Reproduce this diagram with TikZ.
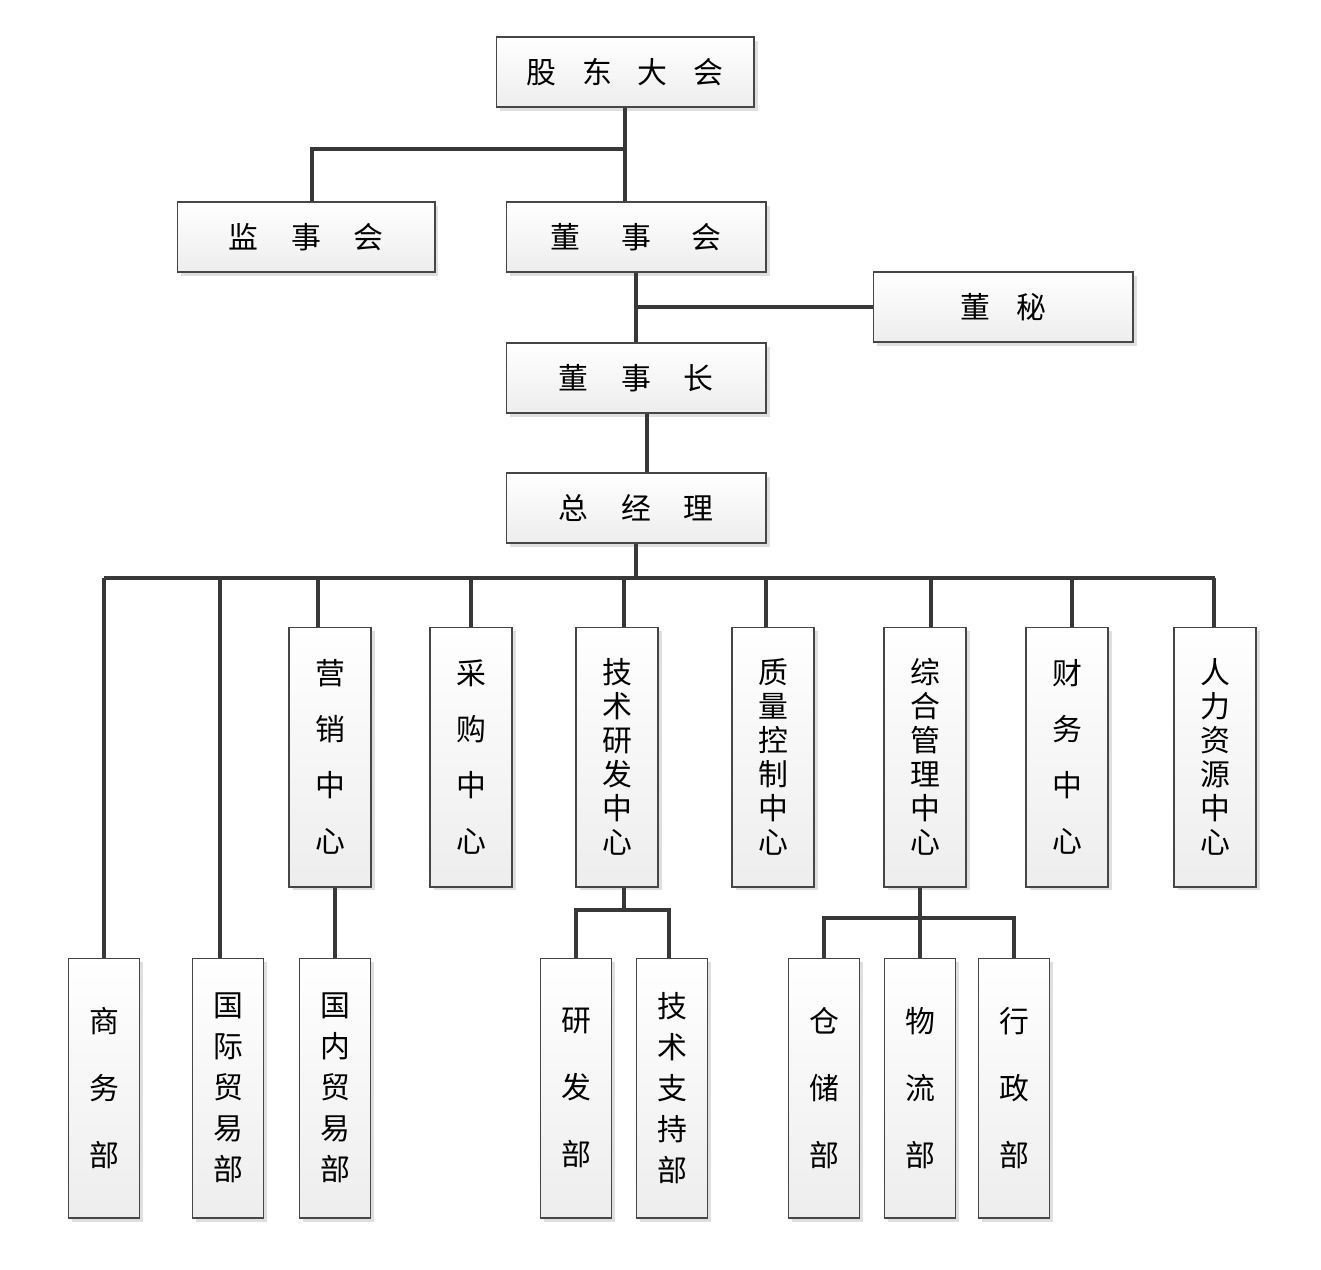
\documentclass[tikz,border=0pt]{standalone}
\usepackage{fontspec}
\usepackage{tikz}
\usetikzlibrary{calc, shadows}
\newfontfamily\cjk{Noto Sans CJK SC}
\newcommand{\gapA}{\hspace{0.52cm}}
\newcommand{\gapB}{\hspace{0.66cm}}
\newcommand{\gapC}{\hspace{0.82cm}}

\tikzset{
	box/.style={draw=gray!55!black, line width=0.6pt, top color=white, bottom color=gray!14,
		drop shadow={shadow xshift=2pt, shadow yshift=-2pt, opacity=0.25, fill=gray}, inner sep=0pt},
	hbox/.style={box, minimum width=5.16cm, minimum height=1.4cm, font=\cjk\fontsize{17}{20}\selectfont},
	midbox/.style={box, minimum width=1.64cm, minimum height=5.2cm, align=center},
	lowbox/.style={box, minimum width=1.42cm, minimum height=5.2cm, align=center},
	wide/.style={font=\cjk\fontsize{17}{32}\selectfont},
	tight/.style={font=\cjk\fontsize{17}{19.4}\selectfont},
	wider/.style={font=\cjk\fontsize{17}{38}\selectfont},
	snug/.style={font=\cjk\fontsize{17}{23.3}\selectfont},
	link/.style={draw=black!78, line width=2.2pt}
}

\begin{document}
\begin{tikzpicture}[x=0.02cm, y=-0.02cm]
	\useasboundingbox (0,0) rectangle (1321,1270);
	
	% top of the tree
	\node[hbox] (gd)  at (625,72)  {股\gapA 东\gapA 大\gapA 会};
	\node[hbox] (jsh) at (306,237) {监\gapB 事\gapB 会};
	\node[hbox, minimum width=5.2cm] (dsh) at (636,237) {董\gapC 事\gapC 会};
	\node[hbox, minimum width=5.2cm] (dm)  at (1003,307) {董\gapA 秘};
	\node[hbox, minimum width=5.2cm] (dsz) at (636,378) {董\gapB 事\gapB 长};
	\node[hbox, minimum width=5.2cm] (zjl) at (636,508) {总\gapB 经\gapB 理};
	
	% centres
	\node[midbox, wide]  (yx) at (330,757)  {营\\销\\中\\心};
	\node[midbox, wide]  (cg) at (471,757)  {采\\购\\中\\心};
	\node[midbox, tight] (jy) at (617,757)  {技\\术\\研\\发\\中\\心};
	\node[midbox, tight] (zl) at (773,757)  {质\\量\\控\\制\\中\\心};
	\node[midbox, tight] (zh) at (925,757)  {综\\合\\管\\理\\中\\心};
	\node[midbox, wide]  (cw) at (1067,757) {财\\务\\中\\心};
	\node[midbox, tight] (rl) at (1215,757) {人\\力\\资\\源\\中\\心};
	
	% departments
	\node[lowbox, wider] (sw) at (104,1088) {商\\务\\部};
	\node[lowbox, snug]  (gj) at (228,1088) {国\\际\\贸\\易\\部};
	\node[lowbox, snug]  (gn) at (335,1088) {国\\内\\贸\\易\\部};
	\node[lowbox, wider] (yf) at (576,1088) {研\\发\\部};
	\node[lowbox, snug]  (jz) at (672,1088) {技\\术\\支\\持\\部};
	\node[lowbox, wider] (cc) at (824,1088) {仓\\储\\部};
	\node[lowbox, wider] (wl) at (920,1088) {物\\流\\部};
	\node[lowbox, wider] (xz) at (1014,1088) {行\\政\\部};
	
	\coordinate (b1)  at (625,149);
	\coordinate (bus) at (636,578);
	\coordinate (b2)  at (624,910);
	\coordinate (b3)  at (920,918);
	
	% connectors
	\draw[link] (gd.south) -- (gd.south |- dsh.north);
	\draw[link] (b1) -| ([xshift=0.12cm]jsh.north);
	\draw[link] (dsh.south) -- (dsz.north);
	\draw[link] (dsh.south |- dm.west) -- (dm.west);
	\draw[link] ([xshift=0.22cm]dsz.south) -- ([xshift=0.22cm]zjl.north);
	\draw[link] (zjl.south) -- (bus);
	\draw[link] (sw.north |- bus) -- (rl.north |- bus);
	\foreach \n/\o in {yx/-12, cg/0, jy/7, zl/-7, zh/6, cw/5, rl/-1}
		\draw[link] ([xshift=\o*0.02cm]\n.north |- bus) -- ([xshift=\o*0.02cm]\n.north);
	\draw[link] (sw.north |- bus) -- (sw.north);
	\draw[link] ([xshift=-0.16cm]gj.north |- bus) -- ([xshift=-0.16cm]gj.north);
	\draw[link] (gn.north |- yx.south) -- (gn.north);
	\draw[link] (b2 |- jy.south) -- (b2);
	\draw[link] (yf.north) |- (b2) -| ([xshift=-0.06cm]jz.north);
	\draw[link] (b3 |- zh.south) -- (wl.north);
	\draw[link] (cc.north) |- (b3) -| (xz.north);
\end{tikzpicture}
\end{document}
